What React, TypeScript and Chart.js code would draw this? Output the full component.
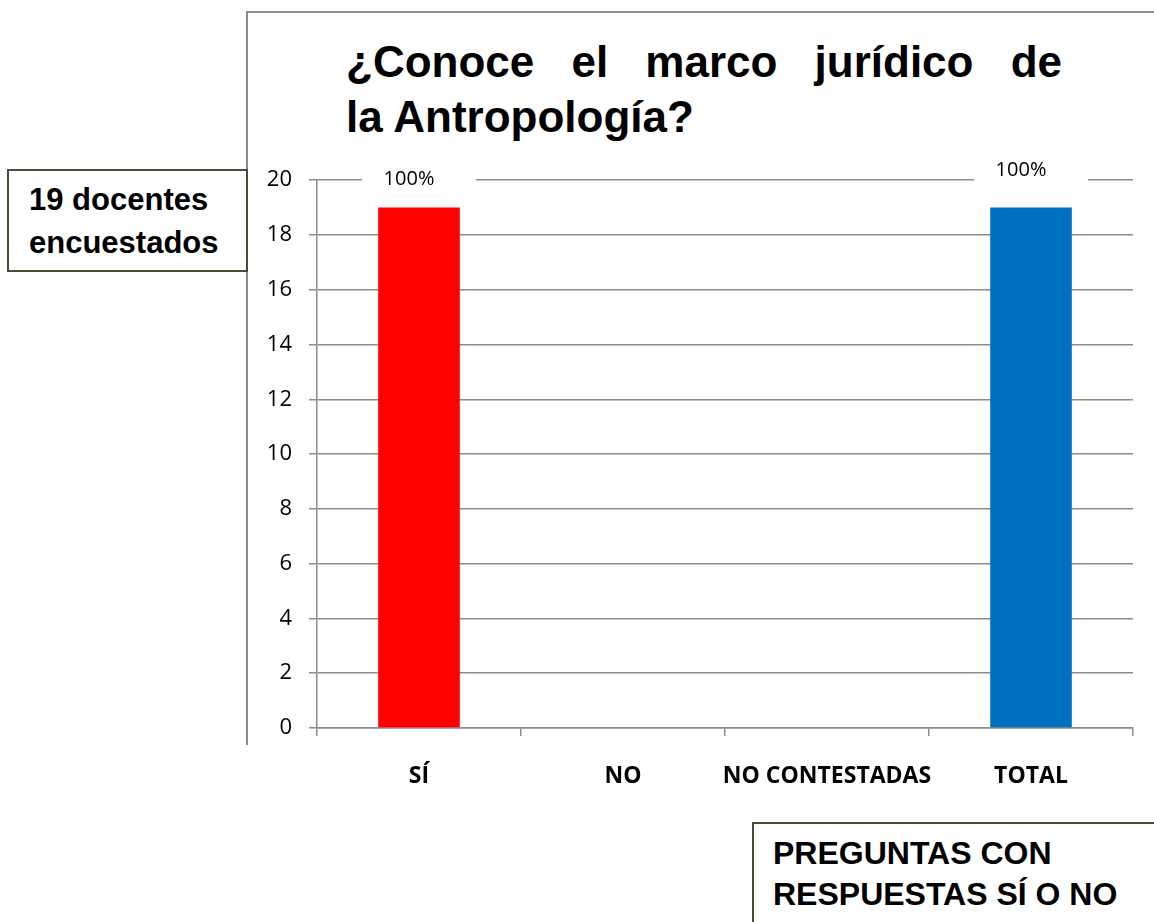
import React, { useEffect, useRef } from "react";
import { Chart, registerables } from "chart.js";

Chart.register(...registerables);

// ---- data ----
const categories = ["SÍ", "NO", "NO CONTESTADAS", "TOTAL"];
const counts = [19, 0, 0, 19];
const percentLabels = ["100%", "", "", "100%"];
const barColors = ["#FF0000", "#C0504D", "#9BBB59", "#0070C0"];
const yMin = 0;
const yMax = 20;
const yStep = 2;
const titleLines = ["¿Conoce el marco jurídico de", "la Antropología?"];
const sampleNote = ["19 docentes", "encuestados"];
const footerNote = ["PREGUNTAS CON", "RESPUESTAS SÍ O NO"];

const GRID = "#8c8c8c";
const BOX = "#4d4b38";
const CALIB = '"Open Sans", "Noto Sans", sans-serif';
const ARIAL = '"Liberation Sans", Arial, sans-serif';

const pctPlugin = {
  id: "pctLabels",
  afterDatasetsDraw(chart: any, _args: any, opts: any) {
    const meta = chart.getDatasetMeta(0);
    const ctx = chart.ctx;
    meta.data.forEach((bar: any, i: number) => {
      const txt = percentLabels[i];
      if (!txt) return;
      const off = (opts.offsets && opts.offsets[i]) || 30;
      const cy = bar.y - off;
      ctx.save();
      ctx.fillStyle = "#ffffff";
      ctx.fillRect(bar.x - 57, cy - 13, 114, 26);
      ctx.font = `20px ${CALIB}`;
      ctx.fillStyle = "#000000";
      ctx.textAlign = "center";
      ctx.textBaseline = "middle";
      ctx.fillText(txt, bar.x - 10, cy);
      ctx.restore();
    });
  },
};

function BarChart() {
  const ref = useRef<HTMLCanvasElement>(null);
  useEffect(() => {
    if (!ref.current) return;
    const chart = new Chart(ref.current, {
      type: "bar",
      data: {
        labels: categories,
        datasets: [
          {
            data: counts,
            backgroundColor: barColors,
            borderWidth: 0,
            barPercentage: 0.4,
            categoryPercentage: 1,
          },
        ],
      },
      options: {
        responsive: false,
        animation: false,
        devicePixelRatio: 1,
        layout: { padding: { left: 0, right: 21, top: 26, bottom: 0 } },
        plugins: {
          legend: { display: false },
          title: { display: false },
          tooltip: { enabled: false },
          pctLabels: { offsets: [28, 0, 0, 37] },
        } as any,
        scales: {
          x: {
            offset: true,
            grid: {
              offset: true,
              drawOnChartArea: false,
              drawTicks: true,
              tickLength: 8,
              color: GRID,
              lineWidth: 1.5,
            },
            border: { display: true, color: GRID, width: 1.5 },
            ticks: {
              color: "#000000",
              padding: 27,
              font: { family: CALIB, size: 23, weight: "bold" },
              maxRotation: 0,
              autoSkip: false,
            },
            afterFit: (s: any) => {
              s.height = 102;
            },
          },
          y: {
            min: yMin,
            max: yMax,
            ticks: {
              stepSize: yStep,
              color: "#000000",
              padding: 17,
              font: { family: CALIB, size: 22 },
            },
            grid: {
              color: GRID,
              lineWidth: 1.5,
              tickLength: 8,
              drawTicks: true,
            },
            border: { display: true, color: GRID, width: 1.5 },
            afterFit: (s: any) => {
              s.width = 70;
            },
          },
        },
      },
      plugins: [pctPlugin as any],
    });
    return () => chart.destroy();
  }, []);
  return (
    <canvas
      ref={ref}
      width={907}
      height={680}
      style={{ position: "absolute", left: 247, top: 150, width: 907, height: 680 }}
    />
  );
}

export default function App() {
  return (
    <div
      style={{
        position: "absolute",
        left: 0,
        top: 0,
        width: 1154,
        height: 922,
        overflow: "hidden",
        background: "#ffffff",
        fontFamily: ARIAL,
      }}
    >
      {/* chart frame */}
      <div
        style={{
          position: "absolute",
          left: 246,
          top: 11,
          width: 940,
          height: 734,
          borderLeft: `2px solid ${GRID}`,
          borderTop: `2px solid ${GRID}`,
          boxSizing: "border-box",
        }}
      />
      {/* title */}
      <div
        style={{
          position: "absolute",
          left: 346,
          top: 34,
          width: 716,
          fontSize: 44,
          fontWeight: "bold",
          lineHeight: "55px",
          color: "#000",
        }}
      >
        <div style={{ textAlign: "justify", textAlignLast: "justify", whiteSpace: "nowrap" } as any}>
          {titleLines[0]}
        </div>
        <div style={{ textAlign: "left" }}>{titleLines[1]}</div>
      </div>
      <BarChart />
      {/* left note box */}
      <div
        style={{
          position: "absolute",
          left: 7,
          top: 169,
          width: 241,
          height: 103,
          border: `2px solid ${BOX}`,
          boxSizing: "border-box",
          background: "#fff",
        }}
      />
      <div
        style={{
          position: "absolute",
          left: 29,
          top: 178,
          fontSize: 31,
          fontWeight: "bold",
          lineHeight: "43px",
          color: "#000",
          whiteSpace: "nowrap",
        }}
      >
        <div>{sampleNote[0]}</div>
        <div>{sampleNote[1]}</div>
      </div>
      {/* bottom note box */}
      <div
        style={{
          position: "absolute",
          left: 752,
          top: 822,
          width: 460,
          height: 160,
          border: `2px solid ${BOX}`,
          boxSizing: "border-box",
          background: "#fff",
        }}
      />
      <div
        style={{
          position: "absolute",
          left: 773,
          top: 833,
          fontSize: 32,
          fontWeight: "bold",
          lineHeight: "41px",
          color: "#000",
          whiteSpace: "nowrap",
        }}
      >
        <div>{footerNote[0]}</div>
        <div>{footerNote[1]}</div>
      </div>
    </div>
  );
}
